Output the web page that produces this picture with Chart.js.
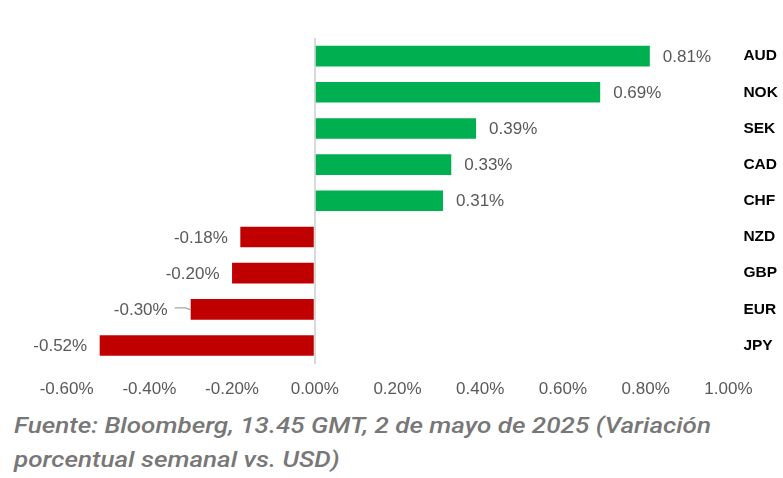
<!DOCTYPE html>
<html>
<head>
<meta charset="utf-8">
<script src="https://cdn.jsdelivr.net/npm/chart.js@4/dist/chart.umd.min.js"></script>
<style>
  html, body { margin: 0; padding: 0; background: #ffffff; }
  #wrap { position: relative; width: 783px; height: 478px; overflow: hidden; }
  #box { position: absolute; left: 0; top: 0; width: 783px; height: 400px; }
  #caption { position: absolute; left: 14px; top: 408px; font-family: Roboto, "Noto Sans", sans-serif; font-style: italic;
    font-weight: 500; font-size: 22.5px; line-height: 34px; color: #777777; transform-origin: 0 0; white-space: nowrap; }
  #caption span { display: inline-block; }
</style>
</head>
<body>
<div id="wrap">
  <div id="box"><canvas id="c" width="783" height="400"></canvas></div>
  <div id="caption"><span id="l1">Fuente: Bloomberg, 13.45 GMT, 2 de mayo de 2025 (Variación</span><br><span id="l2">porcentual semanal vs. USD)</span></div>
</div>
<script>
const categories = ["AUD", "NOK", "SEK", "CAD", "CHF", "NZD", "GBP", "EUR", "JPY"];
const weeklyChange = [0.81, 0.69, 0.39, 0.33, 0.31, -0.18, -0.20, -0.30, -0.52];
const xTickMin = -0.6, xTickMax = 1.0, xTickStep = 0.2;

const GREEN = "#00b050", RED = "#c00000";

const labelPlugin = {
  id: "valueLabels",
  afterDatasetsDraw(chart) {
    const ctx = chart.ctx;
    const meta = chart.getDatasetMeta(0);
    ctx.save();
    ctx.font = "17px 'Liberation Sans', Arial, sans-serif";
    ctx.fillStyle = "#595959";
    ctx.textBaseline = "middle";
    meta.data.forEach((bar, i) => {
      const v = weeklyChange[i];
      const txt = v.toFixed(2) + "%";
      const y = bar.y + 1;
      if (v >= 0) {
        ctx.textAlign = "left";
        ctx.fillText(txt, bar.x + 13, y);
      } else if (categories[i] === "EUR") {
        ctx.textAlign = "right";
        ctx.fillText(txt, bar.x - 23, y);
        ctx.strokeStyle = "#a6a6a6";
        ctx.lineWidth = 1.2;
        ctx.beginPath();
        ctx.moveTo(bar.x - 16, bar.y - 1.5);
        ctx.lineTo(bar.x - 5, bar.y - 1.5);
        ctx.lineTo(bar.x, bar.y + 0.5);
        ctx.stroke();
      } else {
        ctx.textAlign = "right";
        ctx.fillText(txt, bar.x - 12.5, y);
      }
    });
    ctx.restore();
  }
};

new Chart(document.getElementById("c"), {
  type: "bar",
  data: {
    labels: categories,
    datasets: [{
      data: weeklyChange,
      backgroundColor: weeklyChange.map(v => v >= 0 ? GREEN : RED),
      borderWidth: 0,
      barPercentage: 0.57,
      categoryPercentage: 1.0
    }]
  },
  options: {
    indexAxis: "y",
    responsive: false,
    animation: false,
    devicePixelRatio: 1,
    layout: { padding: { left: 66.6, right: 0, top: 38, bottom: 0 } },
    plugins: { legend: { display: false }, tooltip: { enabled: false } },
    scales: {
      x: {
        position: "bottom",
        min: xTickMin,
        max: xTickMax,
        afterFit(scale) { scale.height = 36.4; },
        border: { display: false },
        grid: {
          drawTicks: false,
          color: c => (c.tick && Math.abs(c.tick.value) < 1e-9) ? "#d9d9d9" : "rgba(0,0,0,0)",
          lineWidth: 2
        },
        ticks: {
          stepSize: xTickStep,
          padding: 16,
          color: "#595959",
          font: { family: "'Liberation Sans', Arial, sans-serif", size: 17 },
          callback: v => Number(v).toFixed(2) + "%"
        }
      },
      y: {
        position: "right",
        afterFit(scale) { scale.width = 54.6; },
        border: { display: false },
        grid: { display: false, drawTicks: false },
        ticks: {
          padding: 15,
          color: "#000000",
          font: { family: "'Liberation Sans', Arial, sans-serif", size: 15.5, weight: "bold" }
        }
      }
    }
  },
  plugins: [labelPlugin]
});

// fit caption width to reference
const cap = document.getElementById("caption");
const w = document.getElementById("l1").getBoundingClientRect().width;
cap.style.transform = "scaleX(" + (697 / w) + ")";
</script>
</body>
</html>
